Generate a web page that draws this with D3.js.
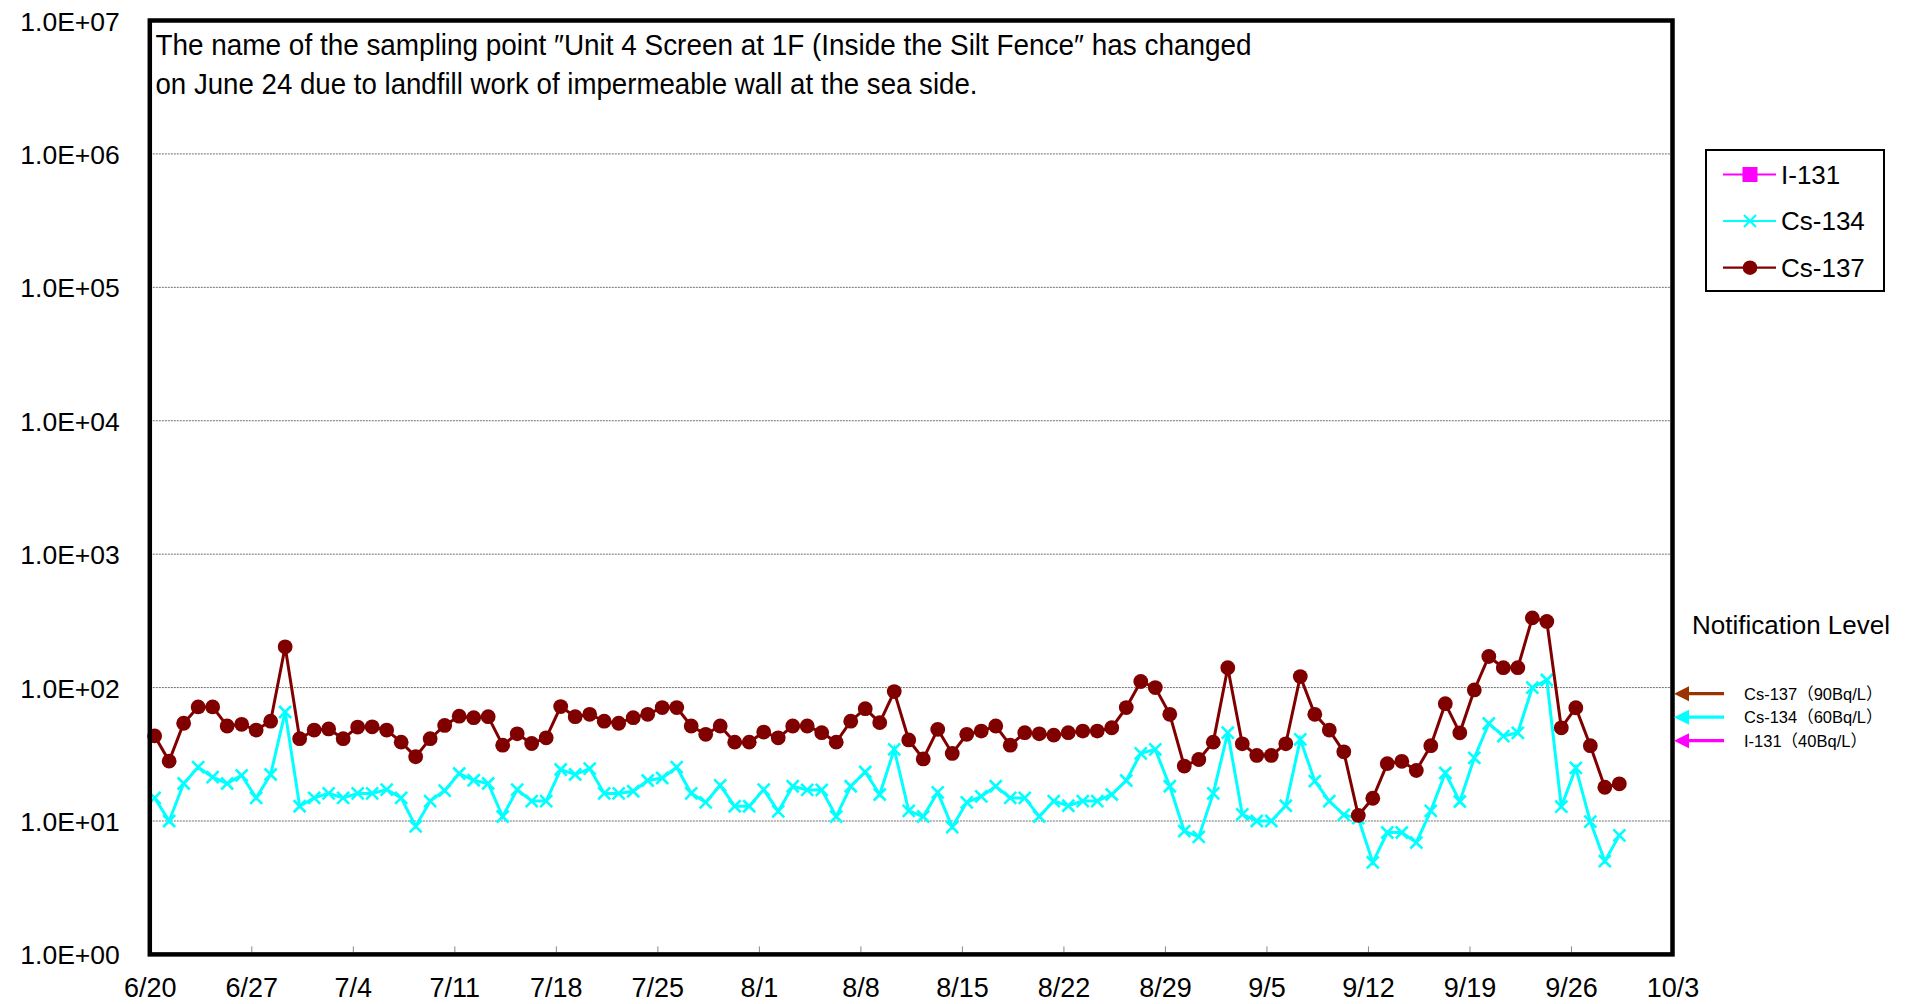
<!DOCTYPE html>
<html>
<head>
<meta charset="utf-8">
<script src="https://cdn.jsdelivr.net/npm/d3@7"></script>
<style>
  html, body { margin: 0; padding: 0; background: #fff; }
  svg { display: block; font-family: "Liberation Sans", Arial, sans-serif; }
</style>
</head>
<body>
<svg id="chart" width="1914" height="1004"></svg>
<script>
// ---------------- data ----------------
const dates = [
  "6/20","6/21","6/22","6/23","6/24","6/25","6/26","6/27","6/28","6/29","6/30",
  "7/1","7/2","7/3","7/4","7/5","7/6","7/7","7/8","7/9","7/10","7/11","7/12","7/13","7/14","7/15",
  "7/16","7/17","7/18","7/19","7/20","7/21","7/22","7/23","7/24","7/25","7/26","7/27","7/28","7/29","7/30","7/31",
  "8/1","8/2","8/3","8/4","8/5","8/6","8/7","8/8","8/9","8/10","8/11","8/12","8/13","8/14","8/15",
  "8/16","8/17","8/18","8/19","8/20","8/21","8/22","8/23","8/24","8/25","8/26","8/27","8/28","8/29","8/30","8/31",
  "9/1","9/2","9/3","9/4","9/5","9/6","9/7","9/8","9/9","9/10","9/11","9/12","9/13","9/14","9/15",
  "9/16","9/17","9/18","9/19","9/20","9/21","9/22","9/23","9/24","9/25","9/26","9/27","9/28","9/29"
];
const year = 2013;
const samplingHour = 8;

const cs137 = [
  43.4, 28.1, 54, 71.6, 71.6, 51.5, 53, 48, 56, 202, 41.4,
  48, 49, 41.4, 50.6, 50.8, 48, 39, 30.3, 41.4, 52, 61, 59.5, 60.5, 37, 45,
  38.1, 42, 72, 60.5, 63, 56, 54, 59.5, 63, 70.8, 70.8, 51.5, 44.6, 51.5, 39, 39,
  46.4, 42, 51.5, 51.5, 45.9, 39, 56, 69.5, 54.6, 93.3, 40.5, 29.2, 48.6, 32.1, 44.6,
  47.2, 51.5, 37, 45.9, 45, 44, 45.9, 47.2, 47.2, 50, 70.8, 111, 100, 63, 25.8, 28.9,
  39, 141, 37.9, 31, 31, 37.9, 121, 63, 48, 33, 11, 14.8, 26.9, 28, 23.9,
  36.7, 75.7, 45.8, 96, 171, 141, 141, 333, 313, 49.9, 70.6, 36.7, 17.9, 19
];
const cs134 = [
  14.9, 10, 19.1, 25.3, 21.3, 19.1, 22, 14.9, 22.3, 65.6, 12.9,
  14.9, 16.1, 14.9, 16.1, 16.1, 17.2, 14.9, 9.1, 14.1, 16.9, 22.7, 20.2, 19.1, 10.8, 17.2,
  14.1, 14.1, 24.3, 22.3, 24.7, 16.1, 16.1, 16.7, 20.1, 21, 25.3, 16.1, 13.8, 18.5, 12.9, 12.9,
  17.2, 11.8, 18.2, 17.1, 17.1, 10.8, 18.2, 23.3, 15.8, 34.4, 11.9, 10.8, 16.4, 9.0, 13.8,
  15.3, 18.2, 14.9, 14.9, 10.8, 14.1, 13, 14.1, 14.1, 15.8, 20.1, 32.1, 34.4, 18.2, 8.4, 7.6,
  16.1, 45.9, 11.2, 10, 10, 13, 40.9, 19.9, 14.1, 11.1, 10.5, 4.9, 8.2, 8.2, 6.9,
  11.9, 22.9, 14, 29.7, 53.8, 43.3, 45.8, 100, 114, 12.8, 25, 9.9, 5.0, 7.8
];
const i131 = []; // all below detection limit - nothing plotted

const seriesNames = ["I-131", "Cs-134", "Cs-137"];
const seriesColors = ["#FF00FF", "#00FFFF", "#800000"];

const xTickLabels = ["6/20","6/27","7/4","7/11","7/18","7/25","8/1","8/8","8/15","8/22","8/29","9/5","9/12","9/19","9/26","10/3"];
const yTickValues = [1, 10, 100, 1000, 10000, 100000, 1000000, 10000000];
const yTickLabels = ["1.0E+00","1.0E+01","1.0E+02","1.0E+03","1.0E+04","1.0E+05","1.0E+06","1.0E+07"];

const notifyNames = ["Cs-137（90Bq/L）", "Cs-134（60Bq/L）", "I-131（40Bq/L）"];
const notifyLevels = [90, 60, 40];
const notifyColors = ["#993300", "#00FFFF", "#FF00FF"];

const noteLines = [
  "The name of the sampling point \u2033Unit 4 Screen at 1F (Inside the Silt Fence\u2033 has changed",
  "on June 24 due to landfill work of impermeable wall at the sea side."
];

// ---------------- layout ----------------
const plot = { left: 149.8, right: 1672.5, top: 20.5, bottom: 954.4 };
const parseMD = s => { const [m, d] = s.split("/").map(Number); return new Date(year, m - 1, d); };

const x = d3.scaleTime()
  .domain([parseMD("6/20"), parseMD("10/3")])
  .range([plot.left, plot.right]);
const y = d3.scaleLog()
  .domain([1, 1e7])
  .range([plot.bottom, plot.top]);

const svg = d3.select("#chart");

// gridlines
svg.append("g").selectAll("line")
  .data(yTickValues.filter(v => v > 1 && v < 1e7))
  .join("line")
  .attr("x1", plot.left).attr("x2", plot.right)
  .attr("y1", d => y(d)).attr("y2", d => y(d))
  .attr("stroke", "#707070").attr("stroke-width", 1)
  .attr("stroke-dasharray", "2,1");

// x axis
const xAxis = d3.axisBottom(x)
  .tickValues(xTickLabels.map(parseMD))
  .tickFormat((d, i) => xTickLabels[i])
  .tickSizeInner(-8).tickSizeOuter(0);
const gx = svg.append("g").attr("transform", `translate(0,${plot.bottom})`).call(xAxis);
gx.select(".domain").remove();
gx.selectAll(".tick line").attr("stroke", "#888").attr("stroke-width", 1).attr("y1", -2);
gx.selectAll(".tick text")
  .attr("y", 42.5).attr("dy", null)
  .attr("font-size", 27).attr("fill", "#000")
  .attr("font-family", "Liberation Sans, Arial, sans-serif");

// y axis
const yAxis = d3.axisLeft(y)
  .tickValues(yTickValues)
  .tickFormat((d, i) => yTickLabels[i])
  .tickSize(0);
const gy = svg.append("g").attr("transform", `translate(${plot.left},0)`).call(yAxis);
gy.select(".domain").remove();
gy.selectAll(".tick text")
  .attr("x", -30).attr("dy", "0.36em")
  .attr("font-size", 26.5).attr("fill", "#000")
  .attr("font-family", "Liberation Sans, Arial, sans-serif");

// series
const pointDate = s => { const d = parseMD(s); d.setHours(samplingHour); return d; };
const toPts = vals => vals.map((v, i) => ({ date: pointDate(dates[i]), v }));
const line = d3.line().x(d => x(d.date)).y(d => y(d.v));

const pts134 = toPts(cs134);
const pts137 = toPts(cs137);

const g134 = svg.append("g");
g134.append("path").datum(pts134).attr("d", line)
  .attr("fill", "none").attr("stroke", seriesColors[1]).attr("stroke-width", 3);
const xm = 6;
g134.selectAll("path.mk").data(pts134).join("path").attr("class", "mk")
  .attr("d", d => {
    const cx = x(d.date), cy = y(d.v);
    return `M${cx - xm},${cy - xm}L${cx + xm},${cy + xm}M${cx - xm},${cy + xm}L${cx + xm},${cy - xm}`;
  })
  .attr("stroke", seriesColors[1]).attr("stroke-width", 2.6).attr("fill", "none");

const g137 = svg.append("g");
g137.append("path").datum(pts137).attr("d", line)
  .attr("fill", "none").attr("stroke", seriesColors[2]).attr("stroke-width", 3);
g137.selectAll("circle").data(pts137).join("circle")
  .attr("cx", d => x(d.date)).attr("cy", d => y(d.v)).attr("r", 7.4)
  .attr("fill", seriesColors[2]);

// plot border
svg.append("rect")
  .attr("x", plot.left).attr("y", plot.top)
  .attr("width", plot.right - plot.left).attr("height", plot.bottom - plot.top)
  .attr("fill", "none").attr("stroke", "#000").attr("stroke-width", 4.5);

// note text
const noteWidths = [1096, 822];
svg.append("g").selectAll("text").data(noteLines).join("text")
  .attr("x", 155.5).attr("y", (d, i) => 55 + i * 39)
  .attr("font-size", 29)
  .attr("textLength", (d, i) => noteWidths[i])
  .attr("lengthAdjust", "spacingAndGlyphs")
  .attr("fill", "#000")
  .text(d => d);

// legend
const lg = svg.append("g");
lg.append("rect").attr("x", 1706).attr("y", 150).attr("width", 178).attr("height", 141)
  .attr("fill", "#fff").attr("stroke", "#000").attr("stroke-width", 2);
const legendY = [174.5, 221, 267.7];
seriesNames.forEach((name, i) => {
  const yy = legendY[i];
  lg.append("line").attr("x1", 1723).attr("x2", 1776).attr("y1", yy).attr("y2", yy)
    .attr("stroke", seriesColors[i]).attr("stroke-width", 2.2);
  if (i === 0) {
    lg.append("rect").attr("x", 1750 - 7.5).attr("y", yy - 7.5).attr("width", 15).attr("height", 15)
      .attr("fill", seriesColors[i]);
  } else if (i === 1) {
    lg.append("path")
      .attr("d", `M${1750 - xm},${yy - xm}L${1750 + xm},${yy + xm}M${1750 - xm},${yy + xm}L${1750 + xm},${yy - xm}`)
      .attr("stroke", seriesColors[i]).attr("stroke-width", 2.2);
  } else {
    lg.append("circle").attr("cx", 1750).attr("cy", yy).attr("r", 7.3).attr("fill", seriesColors[i]);
  }
  lg.append("text").attr("x", 1781).attr("y", yy).attr("dy", "0.36em")
    .attr("font-size", 26).attr("fill", "#000").text(name);
});

// notification level
const ng = svg.append("g");
ng.append("text").attr("x", 1692).attr("y", 634).attr("font-size", 26).attr("fill", "#000")
  .text("Notification Level");
notifyNames.forEach((name, i) => {
  const yy = y(notifyLevels[i]);
  ng.append("line").attr("x1", 1686).attr("x2", 1724).attr("y1", yy).attr("y2", yy)
    .attr("stroke", notifyColors[i]).attr("stroke-width", 3.2);
  ng.append("path").attr("d", `M1674,${yy}L1689,${yy - 7.5}L1689,${yy + 7.5}Z`)
    .attr("fill", notifyColors[i]);
  ng.append("text").attr("x", 1744).attr("y", yy).attr("dy", "0.36em")
    .attr("font-size", 16.5).attr("fill", "#000")
    .attr("font-family", "Liberation Sans, 'Noto Sans CJK JP', sans-serif")
    .text(name);
});
</script>
</body>
</html>
